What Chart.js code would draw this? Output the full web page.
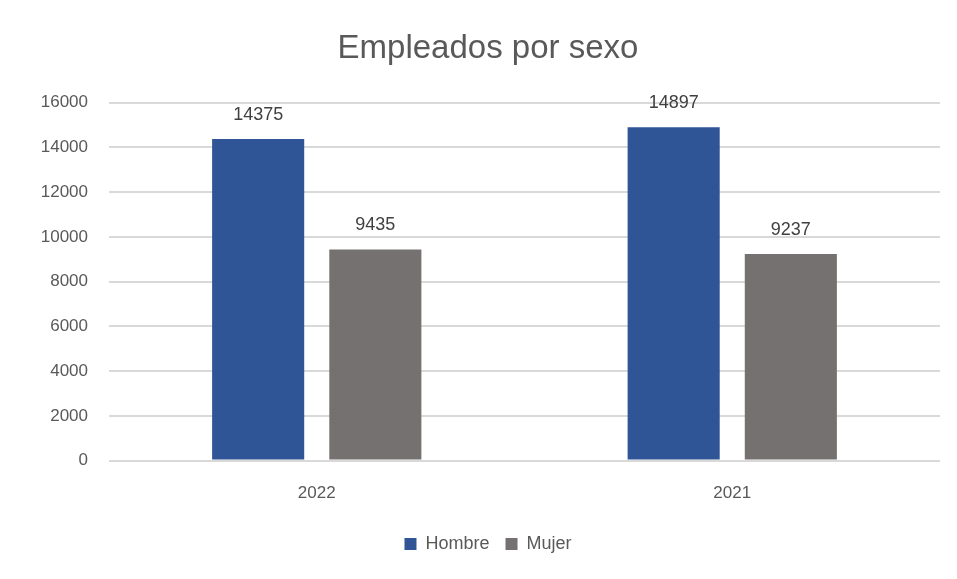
<!DOCTYPE html>
<html lang="es">
<head>
<meta charset="utf-8">
<title>Empleados por sexo</title>
<script src="https://cdn.jsdelivr.net/npm/chart.js@4/dist/chart.umd.min.js"></script>
<style>
    html, body { margin: 0; padding: 0; background: #fff; }
    #wrap { width: 957px; height: 579px; }
</style>
</head>
<body>
<div id="wrap"><canvas id="empleadosChart" width="957" height="579"></canvas></div>
<script>
// Datos del gráfico
const categorias = ['2022', '2021'];
const hombres = [14375, 14897];
const mujeres = [9435, 9237];
const ticksY = [0, 2000, 4000, 6000, 8000, 10000, 12000, 14000, 16000];

const fuente = "'Liberation Sans', 'Noto Sans', sans-serif";

// Etiquetas de valor sobre las barras
const etiquetasPlugin = {
    id: 'etiquetas',
    afterDatasetsDraw(chart) {
        const ctx = chart.ctx;
        ctx.save();
        ctx.font = '18px ' + fuente;
        ctx.fillStyle = '#404040';
        ctx.textAlign = 'center';
        ctx.textBaseline = 'middle';
        chart.data.datasets.forEach((ds, i) => {
            chart.getDatasetMeta(i).data.forEach((bar, j) => {
                ctx.fillText(String(ds.data[j]), bar.x, bar.y - 24);
            });
        });
        ctx.restore();
    }
};

new Chart(document.getElementById('empleadosChart'), {
    type: 'bar',
    data: {
        labels: categorias,
        datasets: [{
            label: 'Hombre',
            data: hombres,
            backgroundColor: '#2F5597'
        }, {
            label: 'Mujer',
            data: mujeres,
            backgroundColor: '#767171'
        }]
    },
    options: {
        responsive: false,
        animation: false,
        datasets: {
            bar: { categoryPercentage: 0.564, barPercentage: 0.786 }
        },
        layout: { padding: { left: 19, right: 0, top: 0, bottom: 16 } },
        plugins: {
            title: {
                display: true,
                text: 'Empleados por sexo',
                color: '#595959',
                font: { size: 33, family: fuente, weight: 'normal' },
                padding: { top: 29, bottom: 34 }
            },
            legend: {
                position: 'bottom',
                labels: {
                    boxWidth: 12,
                    boxHeight: 12,
                    color: '#595959',
                    font: { size: 18, family: fuente },
                    padding: 16
                }
            },
            tooltip: { enabled: false }
        },
        scales: {
            x: {
                grid: { display: false },
                border: { display: false },
                ticks: { color: '#595959', font: { size: 17, family: fuente }, padding: 15 }
            },
            y: {
                min: 0,
                max: 16000,
                afterFit(scale) { scale.width = 90; },
                afterBuildTicks(scale) { scale.ticks = ticksY.map(v => ({ value: v })); },
                grid: { color: '#d9d9d9', lineWidth: 2, drawTicks: false },
                border: { display: false },
                ticks: {
                    color: '#595959',
                    font: { size: 17, family: fuente },
                    padding: 21,
                    callback: v => String(v)
                }
            },
            // eje vacío a la derecha, solo para reservar margen
            yDer: {
                position: 'right',
                min: 0,
                max: 16000,
                afterFit(scale) { scale.width = 17; },
                grid: { display: false },
                border: { display: false },
                ticks: { display: false }
            }
        }
    },
    plugins: [etiquetasPlugin]
});
</script>
</body>
</html>
